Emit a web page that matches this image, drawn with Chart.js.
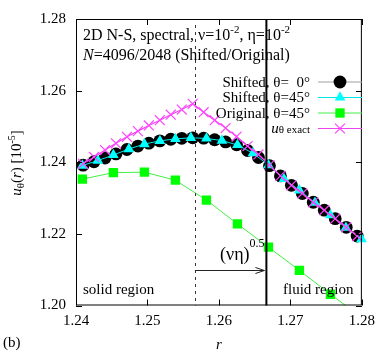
<!DOCTYPE html>
<html lang="en">
<head>
<meta charset="UTF-8">
<title>u_theta profile</title>
<style>
  html, body { margin: 0; padding: 0; background: #fff; }
</style>
</head>
<body>
<canvas id="chart" width="382" height="356"></canvas>

<script src="https://cdn.jsdelivr.net/npm/chart.js"></script>

<script>
// radial positions r and velocity u_theta (x 10^-5)
const rShifted0 = [1.24099, 1.24252, 1.24406, 1.24559, 1.24713, 1.24866, 1.25019, 1.25173, 1.25326, 1.25480,
                   1.25633, 1.25786, 1.25940, 1.26093, 1.26247, 1.26400, 1.26553, 1.26707, 1.26860, 1.27014,
                   1.27167, 1.27320, 1.27474, 1.27627, 1.27781, 1.27934];
const uShifted0 = [1.23917, 1.24014, 1.24119, 1.24233, 1.24356, 1.24453, 1.24533, 1.24597, 1.24642, 1.24669,
                   1.24683, 1.24672, 1.24628, 1.24567, 1.24489, 1.24328, 1.24133, 1.23903, 1.23619, 1.23356,
                   1.23128, 1.22883, 1.22661, 1.22425, 1.22183, 1.21939];

const rShifted45 = [1.24089, 1.24306, 1.24523, 1.24740, 1.24957, 1.25174, 1.25391, 1.25608, 1.25825, 1.26042,
                    1.26259, 1.26476, 1.26693, 1.26910, 1.27126, 1.27343, 1.27560, 1.27777, 1.27994];
const uShifted45 = [1.23908, 1.24047, 1.24203, 1.24369, 1.24508, 1.24597, 1.24653, 1.24683, 1.24664, 1.24606,
                    1.24481, 1.24253, 1.23919, 1.23536, 1.23217, 1.22869, 1.22522, 1.22175, 1.21856];

const rOriginal45 = [1.24089, 1.24523, 1.24957, 1.25391, 1.25825, 1.26259, 1.26693, 1.27126, 1.27560, 1.27994];
const uOriginal45 = [1.23528, 1.23711, 1.23722, 1.23500, 1.22944, 1.22278, 1.21628, 1.20981, 1.20314, 1.19669];

const rExact = [1.24099, 1.24252, 1.24406, 1.24559, 1.24713, 1.24866, 1.25019, 1.25173, 1.25326, 1.25480,
                1.25633, 1.25786, 1.25940, 1.26093, 1.26247, 1.26400, 1.26553, 1.26707, 1.26860, 1.27014,
                1.27167, 1.27320, 1.27474, 1.27627, 1.27781, 1.27934];
const uExact = [1.23958, 1.24147, 1.24342, 1.24528, 1.24711, 1.24869, 1.25028, 1.25175, 1.25328, 1.25472,
                1.25633, 1.25397, 1.25175, 1.24953, 1.24717, 1.24453, 1.24217, 1.23920, 1.23619, 1.23356,
                1.23128, 1.22883, 1.22661, 1.22425, 1.22183, 1.21939];

// solid / fluid interface and boundary layer edge
const rSolidEdge = 1.25664;
const rLayerEdge = 1.26664;

const serif = '"Liberation Serif", "DejaVu Serif", serif';
const font = (size, style) => (style ? style + ' ' : '') + size + 'px ' + serif;

const pts = (xs, ys) => xs.map((x, i) => ({ x: x, y: ys[i] }));

// draws a run of text pieces with different fonts / offsets
function rich(ctx, parts, x, y, align) {
    let w = 0;
    parts.forEach(p => { ctx.font = p.f; w += ctx.measureText(p.t).width; });
    let cx = align === 'right' ? x - w : (align === 'center' ? x - w / 2 : x);
    ctx.textAlign = 'left';
    parts.forEach(p => {
        ctx.font = p.f;
        ctx.fillText(p.t, cx, y + (p.dy || 0));
        cx += ctx.measureText(p.t).width;
    });
}

const legendItems = [
    { parts: [{ t: 'Shifted, θ=  0°', f: font(15) }], ds: 0 },
    { parts: [{ t: 'Shifted, θ=45°', f: font(15) }], ds: 1 },
    { parts: [{ t: 'Original, θ=45°', f: font(15) }], ds: 2 },
    { parts: [{ t: 'u', f: font(15, 'italic') }, { t: 'θ exact', f: font(11) }], ds: 3 }
];

const decor = {
    id: 'decor',
    afterDatasetsDraw(chart) {
        const ctx = chart.ctx, a = chart.chartArea;
        const xs = chart.scales.x;
        const xd = xs.getPixelForValue(rSolidEdge);
        const xf = xs.getPixelForValue(rLayerEdge);
        ctx.save();
        // dashed interface line
        ctx.strokeStyle = '#333';
        ctx.lineWidth = 1;
        ctx.setLineDash([3, 4]);
        ctx.beginPath();
        ctx.moveTo(Math.round(xd) + 0.5, a.top + 6);
        ctx.lineTo(Math.round(xd) + 0.5, a.bottom);
        ctx.stroke();
        ctx.setLineDash([]);
        // solid edge line
        ctx.strokeStyle = '#000';
        ctx.lineWidth = 2;
        ctx.beginPath();
        ctx.moveTo(xf, a.top);
        ctx.lineTo(xf, a.bottom);
        ctx.stroke();
        // arrow
        const ya = 270.5;
        ctx.lineWidth = 1;
        ctx.strokeStyle = '#222';
        ctx.beginPath();
        ctx.moveTo(xd, ya);
        ctx.lineTo(xf - 2, ya);
        ctx.moveTo(xf - 11, ya - 3);
        ctx.lineTo(xf - 2, ya);
        ctx.lineTo(xf - 11, ya + 3);
        ctx.stroke();
        ctx.restore();
    },
    afterDraw(chart) {
        const ctx = chart.ctx, a = chart.chartArea;
        const xs = chart.scales.x, ys = chart.scales.y;
        ctx.save();
        // frame and inward ticks
        ctx.strokeStyle = '#000';
        ctx.lineWidth = 1;
        ctx.strokeRect(a.left + 0.5, a.top + 0.5, a.right - a.left - 1, a.bottom - a.top - 1);
        ctx.beginPath();
        xs.ticks.forEach(t => {
            const p = Math.round(xs.getPixelForValue(t.value)) + 0.5;
            ctx.moveTo(p, a.bottom); ctx.lineTo(p, a.bottom - 6);
            ctx.moveTo(p, a.top); ctx.lineTo(p, a.top + 6);
        });
        ys.ticks.forEach(t => {
            const p = Math.round(ys.getPixelForValue(t.value)) + 0.5;
            ctx.moveTo(a.left, p); ctx.lineTo(a.left + 6, p);
            ctx.moveTo(a.right, p); ctx.lineTo(a.right - 6, p);
        });
        ctx.stroke();

        ctx.fillStyle = '#000';
        ctx.textBaseline = 'alphabetic';
        // header lines
        rich(ctx, [
            { t: '2D N-S, spectral, ν=10', f: font(16) },
            { t: '-2', f: font(11), dy: -7 },
            { t: ', η=10', f: font(16) },
            { t: '-2', f: font(11), dy: -7 }
        ], 83, 40, 'left');
        rich(ctx, [
            { t: 'N', f: font(16, 'italic') },
            { t: '=4096/2048 (Shifted/Original)', f: font(16) }
        ], 83, 60, 'left');

        // legend
        const rows = [86.5, 102, 117.5, 133];
        legendItems.forEach((it, i) => {
            const y = rows[i];
            const ym = y - 4.5;
            rich(ctx, it.parts, 310, y, 'right');
            const ds = chart.data.datasets[it.ds];
            ctx.strokeStyle = ds.borderColor;
            ctx.lineWidth = ds.borderWidth;
            ctx.beginPath();
            ctx.moveTo(318, ym); ctx.lineTo(362, ym);
            ctx.stroke();
            ctx.fillStyle = ds.pointBackgroundColor;
            ctx.strokeStyle = ds.pointBorderColor;
            ctx.lineWidth = ds.pointBorderWidth;
            Chart.helpers.drawPoint(ctx, {
                pointStyle: ds.pointStyle, radius: ds.pointRadius,
                rotation: 0, borderWidth: ds.pointBorderWidth
            }, 340, ym);
            ctx.fillStyle = '#000';
        });

        // region labels
        ctx.font = font(15);
        ctx.textAlign = 'left';
        ctx.fillText('solid region', 83, 294);
        ctx.fillText('fluid region', 283, 294);
        rich(ctx, [
            { t: '(νη)', f: font(18) },
            { t: '0.5', f: font(12), dy: -13 }
        ], 220, 260, 'left');

        // axis titles
        rich(ctx, [{ t: 'r', f: font(15, 'italic') }], xs.getPixelForValue(1.26), 349, 'center');
        ctx.font = font(15);
        ctx.fillText('(b)', 3, 347);
        ctx.save();
        ctx.translate(21, 163);
        ctx.rotate(-Math.PI / 2);
        rich(ctx, [
            { t: 'u', f: font(15, 'italic') },
            { t: 'θ', f: font(11), dy: 3 },
            { t: '(', f: font(15) },
            { t: 'r', f: font(15, 'italic') },
            { t: ') [10', f: font(15) },
            { t: '-5', f: font(10), dy: -6 },
            { t: ']', f: font(15) }
        ], 0, 0, 'center');
        ctx.restore();
        ctx.restore();
    }
};

const edgeClip = { left: 8, right: 8, top: 8, bottom: 0 };

new Chart(document.getElementById('chart'), {
    type: 'scatter',
    data: {
        datasets: [
            {
                label: 'Shifted, θ= 0°',
                data: pts(rShifted0, uShifted0),
                showLine: true,
                borderColor: '#a0a0a0',
                borderWidth: 1,
                pointStyle: 'circle',
                pointRadius: 6.4,
                pointBackgroundColor: '#000',
                pointBorderColor: '#000',
                pointBorderWidth: 0,
                order: 4,
                clip: edgeClip
            },
            {
                label: 'Shifted, θ=45°',
                data: pts(rShifted45, uShifted45),
                showLine: true,
                borderColor: '#00e8e8',
                borderWidth: 1,
                pointStyle: 'triangle',
                pointRadius: 6.2,
                pointBackgroundColor: '#00ffff',
                pointBorderColor: '#00ffff',
                pointBorderWidth: 0,
                order: 3,
                clip: edgeClip
            },
            {
                label: 'Original, θ=45°',
                data: pts(rOriginal45, uOriginal45),
                showLine: true,
                borderColor: '#44ee44',
                borderWidth: 1,
                pointStyle: 'rect',
                pointRadius: 6.6,
                pointBackgroundColor: '#00ff00',
                pointBorderColor: '#00ff00',
                pointBorderWidth: 0,
                order: 2,
                clip: edgeClip
            },
            {
                label: 'uθ exact',
                data: pts(rExact, uExact),
                showLine: true,
                borderColor: '#ee44ee',
                borderWidth: 1.2,
                pointStyle: 'crossRot',
                pointRadius: 7,
                pointBackgroundColor: '#ff44ff',
                pointBorderColor: '#ff44ff',
                pointBorderWidth: 1.2,
                order: 1,
                clip: edgeClip
            }
        ]
    },
    options: {
        responsive: false,
        animation: false,
        layout: { padding: { left: 0, top: 17, right: 19, bottom: 0 } },
        plugins: { legend: { display: false }, tooltip: { enabled: false } },
        elements: { line: { tension: 0 } },
        scales: {
            x: {
                type: 'linear',
                min: 1.24, max: 1.28,
                grid: { display: false, drawTicks: false },
                border: { display: false },
                afterFit: s => { s.height = 50.5; },
                ticks: {
                    stepSize: 0.01,
                    padding: 7,
                    color: '#000',
                    font: { family: serif, size: 15 },
                    callback: v => v.toFixed(2)
                }
            },
            y: {
                min: 1.20, max: 1.28,
                grid: { display: false, drawTicks: false },
                border: { display: false },
                afterFit: s => { s.width = 76; },
                ticks: {
                    stepSize: 0.02,
                    padding: 10,
                    color: '#000',
                    font: { family: serif, size: 15 },
                    callback: v => v.toFixed(2)
                }
            }
        }
    },
    plugins: [decor]
});
</script>
</body>
</html>
